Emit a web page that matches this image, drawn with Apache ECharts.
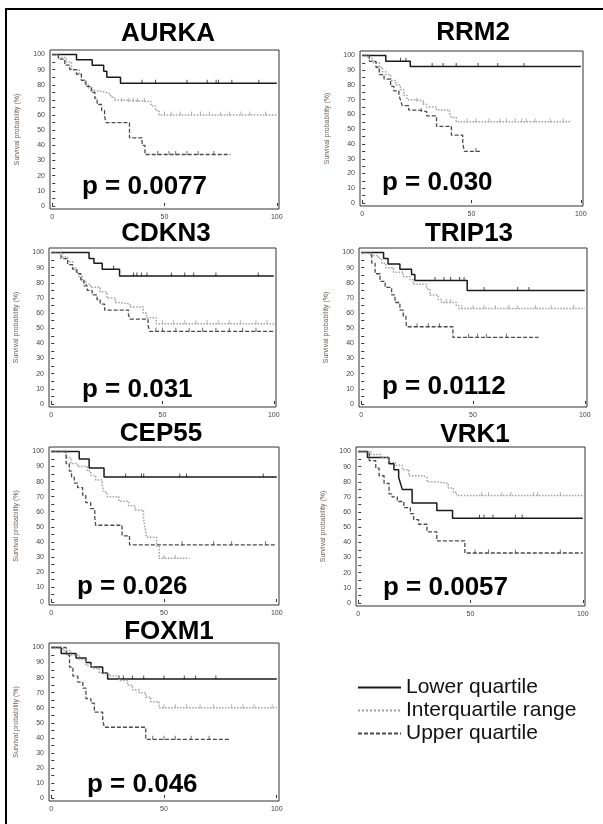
<!DOCTYPE html>
<html>
<head>
<meta charset="utf-8">
<script src="https://cdn.jsdelivr.net/npm/echarts@6/dist/echarts.min.js"></script>
<style>
  html, body { margin: 0; padding: 0; background: #fff; }
  #km { width: 603px; height: 824px; }
</style>
</head>
<body>
<div id="km"></div>
<script>
// genes and log-rank p values
const genes = ["AURKA", "RRM2", "CDKN3", "TRIP13", "CEP55", "VRK1", "FOXM1"];
const pValues = ["p = 0.0077", "p = 0.030", "p = 0.031", "p = 0.0112", "p = 0.026", "p = 0.0057", "p = 0.046"];
const groupNames = ["Lower quartile", "Interquartile range", "Upper quartile"];
const xTicks = [0, 50, 100];
const yTicks = [0, 10, 20, 30, 40, 50, 60, 70, 80, 90, 100];
const yMinorTicks = [0, 5, 10, 15, 20, 25, 30, 35, 40, 45, 50, 55, 60, 65, 70, 75, 80, 85, 90, 95, 100];

// Kaplan-Meier steps [time, survival %] (value after each drop)
const AURKA_lower = [[0,100],[10.8,96.5],[17.8,93],[22.9,89],[24.3,85],[30.4,81],[100,81]];
const AURKA_inter = [[0,100],[2.7,98],[6.3,95],[8.6,90],[12,87],[13,83],[14.5,80],[16,78],[18,76],[21,75],[24,74],[26,72],[27.7,70],[30,69],[44,66],[46,63],[47.6,60],[100,60]];
const AURKA_upper = [[0,100],[2.7,97],[5.6,93],[7.8,90],[10.8,87],[13,83],[15,79],[17.4,75],[19,71],[20,67],[22,63],[23.3,59],[24,55],[34.4,45],[40,40],[41.3,34],[79.4,34]];

const RRM2_lower = [[0,100],[10.8,96],[22,92.5],[100,92.5]];
const RRM2_inter = [[0,100],[2.5,98],[4.8,95],[7.8,92],[9.3,89],[10.8,87],[13,83],[15.3,80],[17.5,77],[19,73],[20.5,70],[24.3,69],[28,67],[29.5,65],[34,63],[40,61],[40.8,58],[43,55],[95.5,55]];
const RRM2_upper = [[0,100],[3.3,96],[6.3,92],[7.8,87],[10,84],[13,79],[14.5,76],[16.8,73],[17.5,70],[18.3,66],[21.3,63],[25.8,62],[29.5,59],[34,52],[40.8,46],[46,40],[46.8,35],[54.3,35]];

const CDKN3_lower = [[0,100],[17,96],[19.2,93],[22.9,89],[30.7,84.5],[100,84.5]];
const CDKN3_inter = [[0,100],[5.2,97],[7.4,94],[9.6,90],[11,87],[12.5,84],[14,81],[15.5,79],[17.7,77],[22,74],[25,70],[28.8,67],[31,66],[35.4,64],[41.3,60],[42.8,57],[47.2,53],[100,53]];
const CDKN3_upper = [[0,100],[4.4,96],[7.4,92],[9.6,89],[11.5,86],[13.3,82],[14.7,78],[16.2,75],[18.4,72],[20.6,69],[22,66],[24,62],[34.7,59],[35.4,56],[43.5,52],[44.2,48],[100,48]];

const TRIP13_lower = [[0,100],[10,96],[12,92.5],[17.3,89],[22.5,85.5],[24,81.5],[47.4,75],[100,75]];
const TRIP13_inter = [[0,100],[4,98],[7.7,96],[9.2,93],[11,90],[14.4,87],[18.8,84],[21.8,82],[23.3,79],[29.2,76],[30.7,72],[34.4,69],[35.9,67],[42.5,65],[43.6,63],[100,63]];
const TRIP13_upper = [[0,100],[4.7,93],[6.2,86],[8.4,81],[10.7,77],[13.6,72],[15.1,67],[17.3,62],[18.8,58],[20,55],[20.3,51],[41,44],[79.3,44]];

const CEP55_lower = [[0,100],[12.4,95],[16.8,89],[23.4,83],[100,83]];
const CEP55_inter = [[0,100],[6.6,96],[8.8,92],[11.7,90],[16,87],[17.5,84],[19.7,81],[22.6,77],[23.4,73],[24.8,70],[30,67],[34.3,64],[37.2,61],[40.9,56],[41.6,49],[42.3,43],[46.7,37],[47.9,29],[61.3,29]];
const CEP55_upper = [[0,100],[6.6,92],[8,87],[9,83],[10.2,79],[11.7,76],[13.9,71],[15.3,66],[17.5,62],[19.3,56],[19.7,51],[31.4,44],[34.7,38],[100,38]];

const VRK1_lower = [[0,100],[4.1,96],[13.7,92],[15.9,88],[18,83],[18.8,79],[19.6,75],[24,66],[35,61],[42,56],[100,56]];
const VRK1_inter = [[0,100],[5.6,98],[10,96],[13.7,93],[16.6,91],[19.6,88],[22.5,84],[29.1,83],[30.6,80],[35,79],[40.1,76],[42.4,73],[43.8,71],[100,71]];
const VRK1_upper = [[0,100],[4.9,94],[7.8,89],[9.3,84],[11.5,79],[13.7,72],[15.1,70],[17.4,67],[20.3,63],[23.2,59],[24.7,55],[26.9,52],[30.6,47],[35,41],[47.5,33],[100,33]];

const FOXM1_lower = [[0,100],[4.4,96],[11,93],[15.4,90],[17.6,87],[22.8,83],[25,79],[100,79]];
const FOXM1_inter = [[0,100],[5.1,98],[8.8,95],[12.5,92],[15.4,88],[18.4,86],[21.3,83],[25.7,81],[30.1,78],[33.8,75],[36,72],[39,70],[41.9,67],[44.1,64],[47.8,60],[100,60]];
const FOXM1_upper = [[0,100],[6.6,95],[8.1,87],[9.6,81],[11.8,77],[14,73],[15.4,66],[17.6,63],[19.1,57],[22.8,52],[23.5,47],[41.9,39],[79.4,39]];

// censored times
const AURKA_cens = [[40,46,60,69,73,74,80,92],[31,34,36,38,41,50,53,57,62,66,70,75,79,84,88,95],[47,52,55,60,65,72]];
const RRM2_cens = [[17.5,20,32,37,43,53,62,74],[25,28,48,52,58,63,66,70,73,75,79,86,92],[27,52]];
const CDKN3_cens = [[28,37,38.5,40.5,43,54,60,64,74,93],[50,55,60,65,70,75,80,85,92,97],[47,50,56,62,68,74,80,86,92]];
const TRIP13_cens = [[33,37,40,44,46,55,70,75],[38,40,45,50,55,60,66,70,78,85,95],[25,30,35,48,52,56,65]];
const CEP55_cens = [[33,40,41,57,60,94],[50,55],[58,72,80,95]];
const VRK1_cens = [[54,56,60,70,73],[55,58,64,68,78,80,90],[52,58,70,90]];
const FOXM1_cens = [[30,32,36,41,50,59,64,73],[50,55,60,66,72,80,85,90,98],[45,50,55,62,70]];

const curves = [
  [AURKA_lower, AURKA_inter, AURKA_upper],
  [RRM2_lower, RRM2_inter, RRM2_upper],
  [CDKN3_lower, CDKN3_inter, CDKN3_upper],
  [TRIP13_lower, TRIP13_inter, TRIP13_upper],
  [CEP55_lower, CEP55_inter, CEP55_upper],
  [VRK1_lower, VRK1_inter, VRK1_upper],
  [FOXM1_lower, FOXM1_inter, FOXM1_upper]
];
const censored = [AURKA_cens, RRM2_cens, CDKN3_cens, TRIP13_cens, CEP55_cens, VRK1_cens, FOXM1_cens];

// layout (pixels): plot frame, title centre, p text left/centre
const panels = [
  { grid: [50, 50, 229, 159], title: [168, 34], p: [82, 187] },
  { grid: [360, 51, 223, 155], title: [473, 33], p: [382, 183] },
  { grid: [49, 248, 227, 159], title: [166, 234], p: [82, 390] },
  { grid: [359, 248, 228, 159], title: [469, 234], p: [382, 387] },
  { grid: [49, 447, 230, 158], title: [161, 434], p: [77, 587] },
  { grid: [356, 447, 229, 159], title: [475, 435], p: [383, 588] },
  { grid: [49, 643, 230, 158], title: [169, 632], p: [87, 785] }
];

const lineStyles = [
  { color: "#1a1a1a", width: 1.5, type: "solid" },
  { color: "#a0a0a0", width: 1.5, type: "dotted" },
  { color: "#4a4a4a", width: 1.3, type: [4, 2] }
];
const fontFamily = '"Liberation Sans", Arial, sans-serif';

function survAt(curve, t) {
  let s = curve[0][1];
  curve.forEach(pt => { if (pt[0] <= t) s = pt[1]; });
  return s;
}

const grids = [], xAxes = [], yAxes = [], series = [], graphics = [];

panels.forEach((p, i) => {
  grids.push({
    left: p.grid[0], top: p.grid[1], width: p.grid[2], height: p.grid[3],
    show: true, borderColor: "#333", borderWidth: 1, backgroundColor: "transparent"
  });
  xAxes.push({
    type: "value", gridIndex: i, min: -1, max: 101,
    axisLine: { show: false },
    splitLine: { show: false },
    axisTick: { show: true, inside: true, length: 3, customValues: xTicks, lineStyle: { color: "#333" } },
    axisLabel: { customValues: xTicks, fontSize: 7, color: "#444", margin: 5, fontFamily }
  });
  yAxes.push({
    type: "value", gridIndex: i, min: -2, max: 103,
    name: "Survival probability (%)", nameLocation: "middle", nameGap: 29,
    nameTextStyle: { fontSize: 7, color: "#6b5d55", fontFamily },
    axisLine: { show: false },
    splitLine: { show: false },
    axisTick: { show: true, inside: true, length: 3, customValues: yMinorTicks, lineStyle: { color: "#333" } },
    axisLabel: { customValues: yTicks, fontSize: 7, color: "#444", margin: 5, fontFamily }
  });

  curves[i].forEach((curve, g) => {
    series.push({
      name: groupNames[g], type: "line", step: "end",
      xAxisIndex: i, yAxisIndex: i,
      data: curve, symbol: "none", showSymbol: false,
      lineStyle: lineStyles[g], itemStyle: { color: lineStyles[g].color },
      animation: false, silent: true
    });
    series.push({
      type: "scatter", xAxisIndex: i, yAxisIndex: i,
      data: censored[i][g].map(t => [t, survAt(curve, t)]),
      symbol: "rect", symbolSize: [1, 4], symbolOffset: [0, -1.5],
      itemStyle: { color: lineStyles[g].color },
      animation: false, silent: true
    });
  });

  graphics.push({
    type: "text", x: p.title[0], y: p.title[1],
    style: {
      text: genes[i], font: 'bold 26px ' + fontFamily, fill: "#000",
      textAlign: "center", textVerticalAlign: "middle", align: "center", verticalAlign: "middle"
    }
  });
  graphics.push({
    type: "text", x: p.p[0], y: p.p[1],
    style: {
      text: pValues[i], font: 'bold 26px ' + fontFamily, fill: "#000",
      textAlign: "left", textVerticalAlign: "middle", align: "left", verticalAlign: "middle"
    }
  });
});

// page frame (top and left edges)
graphics.push({ type: "line", shape: { x1: 5, y1: 9, x2: 603, y2: 9 }, style: { stroke: "#000", lineWidth: 2 } });
graphics.push({ type: "line", shape: { x1: 6, y1: 8, x2: 6, y2: 824 }, style: { stroke: "#000", lineWidth: 2 } });

const chart = echarts.init(document.getElementById("km"), null, { renderer: "canvas" });
chart.setOption({
  backgroundColor: "#fff",
  animation: false,
  textStyle: { fontFamily },
  legend: {
    data: groupNames, orient: "vertical", left: 357, top: 677,
    padding: 0, itemGap: 2, itemWidth: 43, itemHeight: 14,
    itemStyle: { opacity: 0 },
    textStyle: { fontSize: 21, color: "#111", fontFamily }
  },
  grid: grids,
  xAxis: xAxes,
  yAxis: yAxes,
  series: series,
  graphic: graphics
});
</script>
</body>
</html>
